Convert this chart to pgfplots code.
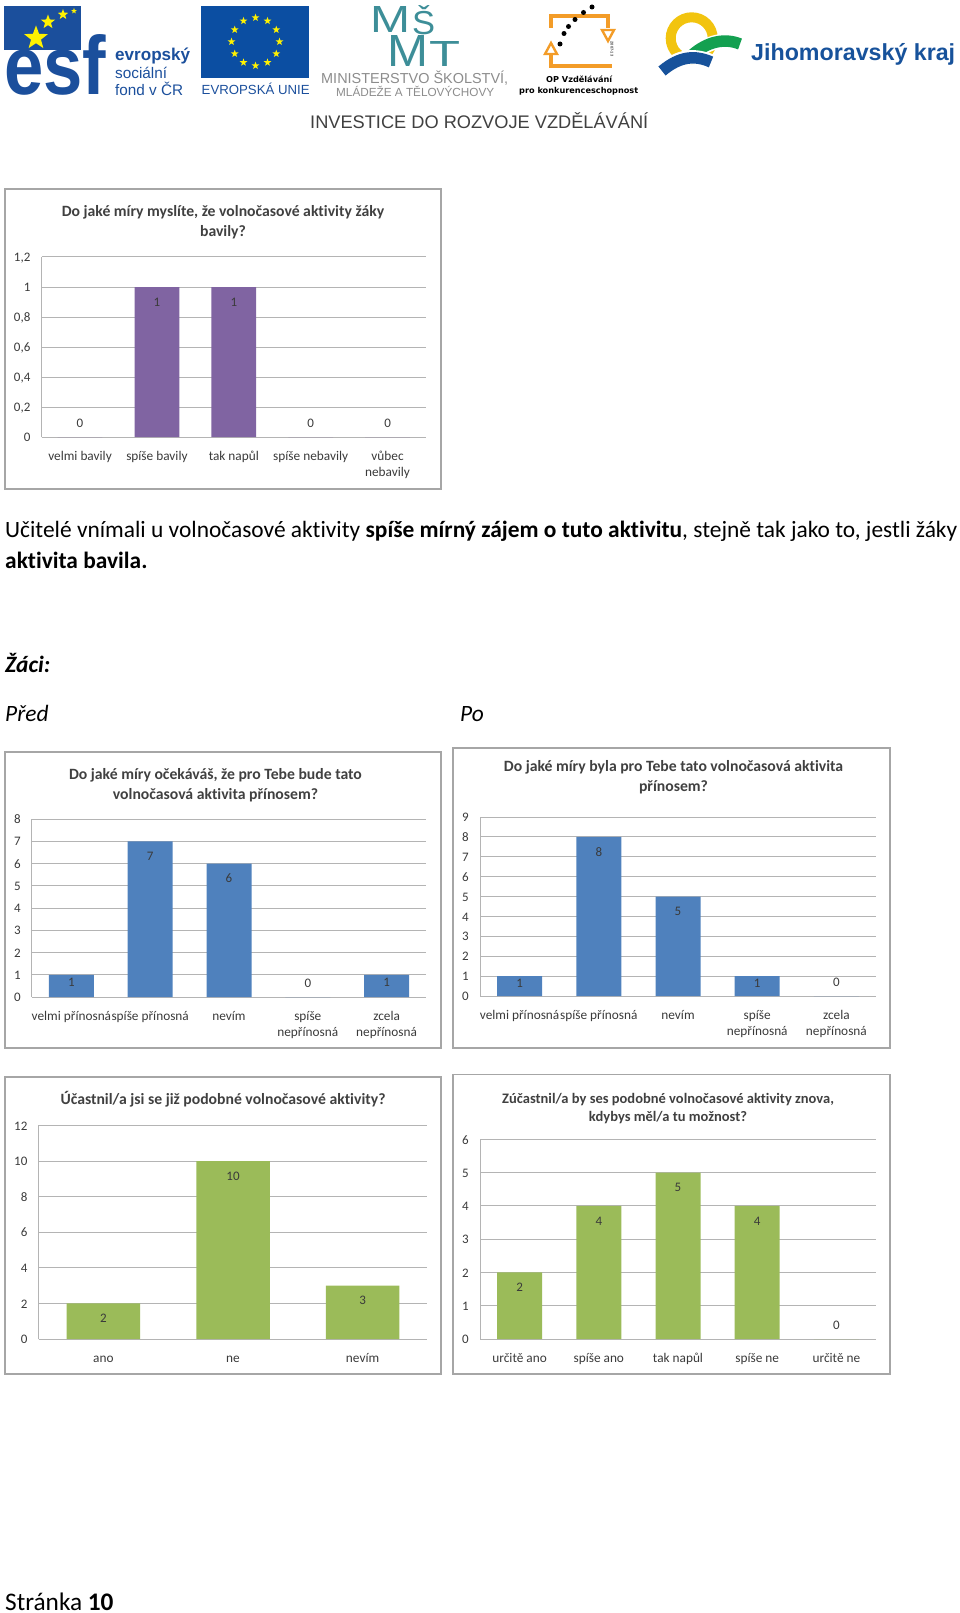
\documentclass[border=0pt]{standalone}
\usepackage{fontspec}
\setmainfont{Carlito}[Ligatures=NoCommon]
\newfontfamily\libsans{Liberation Sans}
\newfontfamily\dejasans{DejaVu Sans}
\usepackage{pgfplots}
\pgfplotsset{compat=1.18}
\usetikzlibrary{shapes.geometric}
\definecolor{cpurple}{HTML}{8064A2}
\definecolor{cblue}{HTML}{4F81BD}
\definecolor{cgreen}{HTML}{9BBB59}
\definecolor{esfblue}{HTML}{1B4F9C}
\definecolor{eublue}{HTML}{0B4EA2}
\definecolor{teal}{HTML}{3D8E98}
\definecolor{oporange}{HTML}{F39C28}
\definecolor{jmblue}{HTML}{17529B}
\definecolor{jmgreen}{HTML}{13A050}
\definecolor{jmyellow}{HTML}{F2C40F}
\definecolor{gridc}{HTML}{B4B4B4}
\definecolor{framec}{HTML}{A6A6A6}
\definecolor{txtc}{HTML}{3A3A3A}
\newcommand\fs[1]{\fontsize{#1}{#1}\selectfont}
\newcommand\fitw[2]{\resizebox{#1pt}{!}{#2}}
\newcommand\fitb[3]{\resizebox{#1pt}{#2pt}{#3}}
\pgfplotsset{
  chart/.style={
    scale only axis, anchor=south west,
    axis lines=left, axis line style={-, draw=gridc, line width=1pt},
    ymajorgrids=true, grid style={draw=gridc, line width=1pt},
    major tick length=0pt, tick style={draw=none},
    ymin=0,
    /pgf/number format/use comma,
    /pgf/number format/assume math mode=true,
    yticklabel style={font=\fs{13}, text=txtc, inner sep=0pt, anchor=east, xshift=-11pt, yshift=-2pt},
    xticklabel style={font=\fontsize{13.3}{16}\selectfont, text=txtc, inner sep=0pt, anchor=north, align=center, yshift=-12pt},
    typeset ticklabels with strut,
    clip=false,
  },
  vals/.style={ybar, bar shift=0pt, fill=#1, draw=none},
  lab/.style={nodes near coords,
    nodes near coords style={anchor=center, inner sep=0pt, yshift=#1pt, font=\fs{13}, text=txtc}},
}
\begin{document}
\begin{tikzpicture}[x=1pt,y=1pt]
\path[use as bounding box] (0,0) rectangle (960,-1613);

% ---- header logos ----
\fill[esfblue] (4,-6) rectangle (81,-50);
\node[star,star points=5,star point ratio=2.4,fill=yellow,inner sep=0pt,minimum size=25pt] at (36,-38) {};
\node[star,star points=5,star point ratio=2.4,fill=yellow,inner sep=0pt,minimum size=15pt] at (48,-22) {};
\node[star,star points=5,star point ratio=2.4,fill=yellow,inner sep=0pt,minimum size=11pt] at (63,-14.5) {};
\node[star,star points=5,star point ratio=2.4,fill=yellow,inner sep=0pt,minimum size=6pt] at (74,-11) {};
\node[anchor=base west,inner sep=0pt,text=esfblue,font=\libsans\bfseries] at (4,-95) {\fitb{102}{60}{esf}};
\node[anchor=west,inner sep=0pt,text=esfblue,font=\libsans\bfseries] at (115,-56) {\fitw{75}{evropský}};
\node[anchor=west,inner sep=0pt,text=esfblue,font=\libsans] at (115,-73) {\fitw{52}{sociální}};
\node[anchor=west,inner sep=0pt,text=esfblue,font=\libsans] at (115,-88.5) {\fitw{68}{fond v ČR}};

\fill[eublue] (201,-6) rectangle (309,-78);
\foreach \a in {0,30,...,330}
  \node[star,star points=5,star point ratio=2.4,fill=yellow,inner sep=0pt,minimum size=8pt] at ({255.5+24*cos(\a)},{-41.7+24*sin(\a)}) {};
\node[anchor=west,inner sep=0pt,text=esfblue,font=\libsans] at (201.5,-88.5) {\fitw{108}{EVROPSKÁ UNIE}};

\node[anchor=south west,inner sep=0pt,text=teal,font=\libsans] at (370,-33) {\fitb{40}{26}{M}};
\node[anchor=south west,inner sep=0pt,text=teal,font=\libsans] at (412,-35) {\fitb{23}{29}{Š}};
\node[anchor=south west,inner sep=0pt,text=teal,font=\libsans] at (387,-67) {\fitb{41}{31}{M}};
\node[anchor=south west,inner sep=0pt,text=teal,font=\libsans] at (429,-67) {\fitb{31}{25}{T}};
\node[anchor=west,inner sep=0pt,text=black!45,font=\libsans] at (321,-78.5) {\fitw{187}{MINISTERSTVO ŠKOLSTVÍ,}};
\node[anchor=west,inner sep=0pt,text=black!45,font=\libsans] at (336,-91) {\fitw{158}{MLÁDEŽE A TĚLOVÝCHOVY}};

\draw[oporange,line width=3.6pt] (551,-28) -- (551,-16) -- (608,-16) -- (608,-28);
\draw[oporange,line width=3.6pt] (551,-55) -- (551,-66) -- (612,-66);
\draw[oporange,line width=2.4pt,fill=white] (602,-30) -- (614,-30) -- (608,-41) -- cycle;
\draw[oporange,line width=2.4pt,fill=white] (545,-54) -- (557,-54) -- (551,-43) -- cycle;
\foreach \p in {(592,-7),(583.5,-12.5),(575,-19.5),(568.5,-26.5),(564,-33.5),(560,-44)}
  \fill[black] \p circle (2.5);
\node[rotate=-90,inner sep=0pt,text=black!70,font=\libsans\bfseries\fs{4}] at (612,-49) {2007-13};
\node[anchor=west,inner sep=0pt,font=\dejasans\bfseries] at (546,-79) {\fitw{66}{OP Vzdělávání}};
\node[anchor=west,inner sep=0pt,font=\dejasans\bfseries] at (519,-91) {\fitw{119}{pro konkurenceschopnost}};
\node[anchor=west,inner sep=0pt,text=black!75,font=\libsans] at (310,-120.5) {\fitw{338}{INVESTICE DO ROZVOJE VZDĚLÁVÁNÍ}};

\draw[jmyellow,line width=10pt] (691.7,-38.3) circle (21);
\draw[white,line width=14.5pt] (690,-58) .. controls (708,-40) and (725,-38) .. (744,-44);
\draw[jmgreen,line width=11.5pt] (692,-55) .. controls (708,-41) and (725,-38) .. (740,-44);
\draw[white,line width=14.5pt] (660,-72) .. controls (680,-54) and (695,-55) .. (713,-62);
\draw[jmblue,line width=11.5pt] (662,-71) .. controls (680,-56) and (695,-55) .. (711,-62);
\node[anchor=base west,inner sep=0pt,text=jmblue,font=\libsans\bfseries] at (751,-61) {\fitw{204}{Jihomoravský kraj}};

% ---- body text ----
\node[anchor=base west,inner sep=0pt,font=\fs{23.4}] at (5,-537) {Učitelé vnímali u volnočasové aktivity \textbf{spíše mírný zájem o tuto aktivitu}, stejně tak jako to, jestli žáky};
\node[anchor=base west,inner sep=0pt,font=\fs{23.4}\bfseries] at (5,-568) {aktivita bavila.};
\node[anchor=base west,inner sep=0pt,font=\fs{23.4}\bfseries\itshape] at (5,-672) {Žáci:};
\node[anchor=base west,inner sep=0pt,font=\fs{23.4}\itshape] at (5,-721) {Před};
\node[anchor=base west,inner sep=0pt,font=\fs{23.4}\itshape] at (460,-721) {Po};
\node[anchor=base west,inner sep=0pt,font=\fs{25.3}] at (5,-1610.5) {Stránka \textbf{10}};

% ---- chart frames and titles ----
\draw[framec,line width=1.2pt] (5,-189) rectangle (441,-489);
\draw[framec,line width=1.2pt] (5,-752) rectangle (441,-1048);
\draw[framec,line width=1.2pt] (453,-748) rectangle (890,-1048);
\draw[framec,line width=1.2pt] (5,-1077) rectangle (441,-1374);
\draw[framec,line width=1.2pt] (453,-1074.5) rectangle (890,-1374);

\node[align=center,font=\fontsize{15.7}{20}\selectfont\bfseries,text=black!75,inner sep=0pt,anchor=north] at (223,-205) {Do jaké míry myslíte, že volnočasové aktivity žáky\\bavily?};
\node[align=center,font=\fontsize{15.7}{20}\selectfont\bfseries,text=black!75,inner sep=0pt,anchor=north] at (215.5,-768) {Do jaké míry očekáváš, že pro Tebe bude tato\\volnočasová aktivita přínosem?};
\node[align=center,font=\fontsize{15.7}{20}\selectfont\bfseries,text=black!75,inner sep=0pt,anchor=north] at (673.5,-760) {Do jaké míry byla pro Tebe tato volnočasová aktivita\\přínosem?};
\node[align=center,font=\fontsize{15.7}{20}\selectfont\bfseries,text=black!75,inner sep=0pt,anchor=north] at (223,-1091) {Účastnil/a jsi se již podobné volnočasové aktivity?};
\node[align=center,font=\fontsize{14.5}{18}\selectfont\bfseries,text=black!75,inner sep=0pt,anchor=north] at (668,-1093) {Zúčastnil/a by ses podobné volnočasové aktivity znova,\\kdybys měl/a tu možnost?};

% ---- chart 1 ----
\begin{axis}[chart, at={(41.6pt,-437pt)}, width=384.4pt, height=180pt,
  xmin=-0.5, xmax=4.5, ymax=1.2, ytick={0,0.2,0.4,0.6,0.8,1,1.2},
  xtick={0,1,2,3,4},
  xticklabels={{velmi bavily},{spíše bavily},{tak napůl},{spíše nebavily},{vůbec\\nebavily}},
  bar width=44.7pt]
\addplot[vals=cpurple, lab=-15] coordinates {(1,1) (2,1)};
\addplot[vals=cpurple, lab=14] coordinates {(0,0) (3,0) (4,0)};
\end{axis}

% ---- chart 2 ----
\begin{axis}[chart, at={(32pt,-997pt)}, width=394pt, height=178pt,
  xmin=-0.5, xmax=4.5, ymax=8, ytick={0,1,...,8},
  xtick={0,1,2,3,4},
  xticklabels={{velmi přínosná},{spíše přínosná},{nevím},{spíše\\nepřínosná},{zcela\\nepřínosná}},
  bar width=45pt]
\addplot[vals=cblue, lab=-15] coordinates {(1,7) (2,6)};
\addplot[vals=cblue, lab=-8] coordinates {(0,1) (4,1)};
\addplot[vals=cblue, lab=14] coordinates {(3,0)};
\end{axis}

% ---- chart 3 ----
\begin{axis}[chart, at={(480pt,-996pt)}, width=396pt, height=179pt,
  xmin=-0.5, xmax=4.5, ymax=9, ytick={0,1,...,9},
  xtick={0,1,2,3,4},
  xticklabels={{velmi přínosná},{spíše přínosná},{nevím},{spíše\\nepřínosná},{zcela\\nepřínosná}},
  bar width=45pt]
\addplot[vals=cblue, lab=-15] coordinates {(1,8) (2,5)};
\addplot[vals=cblue, lab=-7] coordinates {(0,1) (3,1)};
\addplot[vals=cblue, lab=14] coordinates {(4,0)};
\end{axis}

% ---- chart 4 ----
\begin{axis}[chart, at={(38.6pt,-1339pt)}, width=388.8pt, height=213.6pt,
  xmin=-0.5, xmax=2.5, ymax=12, ytick={0,2,...,12},
  xtick={0,1,2},
  xticklabels={{ano},{ne},{nevím}},
  bar width=73.5pt]
\addplot[vals=cgreen, lab=-15] coordinates {(0,2) (1,10) (2,3)};
\end{axis}

% ---- chart 5 ----
\begin{axis}[chart, at={(480pt,-1339pt)}, width=396pt, height=199.6pt,
  xmin=-0.5, xmax=4.5, ymax=6, ytick={0,1,...,6},
  xtick={0,1,2,3,4},
  xticklabels={{určitě ano},{spíše ano},{tak napůl},{spíše ne},{určitě ne}},
  bar width=45pt]
\addplot[vals=cgreen, lab=-15] coordinates {(0,2) (1,4) (2,5) (3,4)};
\addplot[vals=cgreen, lab=14] coordinates {(4,0)};
\end{axis}
\end{tikzpicture}
\end{document}
